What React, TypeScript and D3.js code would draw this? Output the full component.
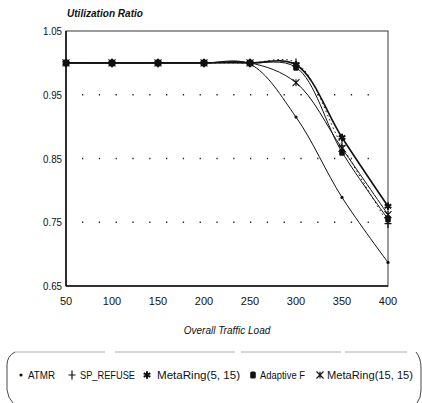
import React, { useRef, useEffect } from "react";
import * as d3 from "d3";

const loads = [50, 100, 150, 200, 250, 300, 350, 400];
const atmr = [1.0, 1.0, 1.0, 1.0, 0.998, 0.915, 0.789, 0.687];
const spRefuse = [1.0, 1.0, 1.0, 1.0, 1.0, 1.0, 0.87, 0.748];
const metaRing5 = [1.0, 1.0, 1.0, 1.0, 1.0, 0.997, 0.883, 0.775];
const adaptiveF = [1.0, 1.0, 1.0, 1.0, 1.0, 0.993, 0.86, 0.755];
const metaRing15 = [1.0, 1.0, 1.0, 1.0, 1.0, 0.969, 0.866, 0.762];
const yTicks = [0.65, 0.75, 0.85, 0.95, 1.05];
const gridTicks = [0.75, 0.85, 0.95];

const series = [
  { name: "ATMR", values: atmr, marker: "dot", dash: null, width: 1 },
  { name: "SP_REFUSE", values: spRefuse, marker: "plus", dash: "1.5,3", width: 1 },
  { name: "MetaRing(5, 15)", values: metaRing5, marker: "star", dash: null, width: 1.6 },
  { name: "Adaptive F", values: adaptiveF, marker: "square", dash: null, width: 1 },
  { name: "MetaRing(15, 15)", values: metaRing15, marker: "x", dash: null, width: 1 },
];

const font = "'Liberation Sans Narrow', 'Liberation Sans', Arial, sans-serif";

function drawMarker(g, type, cx, cy) {
  const s = 3.5;
  if (type === "dot") {
    g.append("circle").attr("cx", cx).attr("cy", cy).attr("r", 1.6).attr("fill", "#111");
  } else if (type === "plus") {
    g.append("path")
      .attr("d", `M${cx - s},${cy}H${cx + s}M${cx},${cy - s - 1}V${cy + s + 1}`)
      .attr("stroke", "#111").attr("stroke-width", 1.2);
  } else if (type === "star") {
    g.append("path")
      .attr("d", d3.symbol(d3.symbolAsterisk, 40)())
      .attr("transform", `translate(${cx},${cy})`)
      .attr("stroke", "#111").attr("stroke-width", 2);
  } else if (type === "square") {
    g.append("rect").attr("x", cx - 2.8).attr("y", cy - 3.5).attr("width", 5.6).attr("height", 7)
      .attr("rx", 1.5).attr("fill", "#111");
  } else {
    g.append("path")
      .attr("d", `M${cx - s},${cy - s}L${cx + s},${cy + s}M${cx - s},${cy + s}L${cx + s},${cy - s}M${cx},${cy - s}V${cy + s}`)
      .attr("stroke", "#111").attr("stroke-width", 1.1);
  }
}

const App = () => {
  const svgRef = useRef(null);
  const width = 422;
  const height = 403;

  useEffect(() => {
    const svg = d3.select(svgRef.current);
    svg.selectAll("*").remove();
    const margin = { top: 31, right: 34, bottom: 117, left: 66 };

    const x = d3.scaleLinear().domain([50, 400]).range([margin.left, width - margin.right]);
    const y = d3.scaleLinear().domain([0.65, 1.05]).range([height - margin.bottom, margin.top]);

    // dotted grid
    svg.append("g")
      .selectAll("line")
      .data(gridTicks)
      .join("line")
      .attr("x1", x(50) + 16)
      .attr("x2", x(400) - 4)
      .attr("y1", (d) => y(d))
      .attr("y2", (d) => y(d))
      .attr("stroke", "#222")
      .attr("stroke-width", 1.3)
      .attr("stroke-dasharray", "1.3,15.5");

    // frame
    svg.append("rect")
      .attr("x", x(50)).attr("y", y(1.05))
      .attr("width", x(400) - x(50)).attr("height", y(0.65) - y(1.05))
      .attr("fill", "none").attr("stroke", "#222").attr("stroke-width", 0.9);
    svg.append("line").attr("x1", x(50)).attr("x2", x(50)).attr("y1", y(1.05)).attr("y2", y(0.65))
      .attr("stroke", "#111").attr("stroke-width", 1.6);
    svg.append("line").attr("x1", x(50)).attr("x2", x(400)).attr("y1", y(0.65)).attr("y2", y(0.65))
      .attr("stroke", "#111").attr("stroke-width", 1.4);

    // y tick labels
    svg.append("g")
      .selectAll("text")
      .data(yTicks)
      .join("text")
      .attr("x", x(50) - 4)
      .attr("y", (d) => y(d) + 4)
      .attr("text-anchor", "end")
      .attr("font-family", font)
      .attr("font-size", 11)
      .attr("textLength", 19)
      .attr("lengthAdjust", "spacingAndGlyphs")
      .attr("fill", "#111")
      .text((d) => d.toFixed(2));

    // x tick labels
    svg.append("g")
      .selectAll("text")
      .data(loads)
      .join("text")
      .attr("x", (d) => x(d))
      .attr("y", y(0.65) + 19)
      .attr("text-anchor", "middle")
      .attr("font-family", font)
      .attr("font-size", 11)
      .attr("fill", "#111")
      .text((d) => d);

    svg.append("text")
      .attr("x", x(50) + 1)
      .attr("y", 17)
      .attr("font-family", font)
      .attr("font-size", 10)
      .attr("font-style", "italic")
      .attr("font-weight", "bold")
      .attr("textLength", 76)
      .attr("lengthAdjust", "spacingAndGlyphs")
      .attr("fill", "#111")
      .text("Utilization Ratio");

    svg.append("text")
      .attr("x", (x(50) + x(400)) / 2)
      .attr("y", y(0.65) + 48)
      .attr("text-anchor", "middle")
      .attr("font-family", font)
      .attr("font-size", 10)
      .attr("font-style", "italic")
      .attr("fill", "#111")
      .text("Overall Traffic Load");

    const line = d3.line()
      .x((d) => x(d[0]))
      .y((d) => y(d[1]))
      .curve(d3.curveCatmullRom.alpha(0.5));

    series.forEach((s) => {
      const pts = loads.map((l, i) => [l, s.values[i]]);
      svg.append("path")
        .datum(pts)
        .attr("fill", "none")
        .attr("stroke", "#111")
        .attr("stroke-width", s.width)
        .attr("stroke-dasharray", s.dash)
        .attr("d", line);
      const g = svg.append("g");
      pts.forEach((p) => drawMarker(g, s.marker, x(p[0]), y(p[1])));
    });

    // legend (bracket-like border)
    const lg = svg.append("g");
    lg.append("path")
      .attr("d", "M15,352 L407,352")
      .attr("fill", "none").attr("stroke", "#999").attr("stroke-width", 0.8)
      .attr("stroke-dasharray", "90,10,120,6,100,4");
    lg.append("path")
      .attr("d", "M15,352 Q7,356 7,365 L7,390 Q8,398 13,403")
      .attr("fill", "none").attr("stroke", "#333").attr("stroke-width", 0.9);
    lg.append("path")
      .attr("d", "M416,352 Q421,358 421,368 L421,390 Q421,398 417,403")
      .attr("fill", "none").attr("stroke", "#333").attr("stroke-width", 0.9);
    const ly = 379;
    const markerX = [21, 72, 147, 253, 320];
    const textX = [28, 80, 157, 260, 327];
    const legendW = [27, 55, 83, 45, 86];
    series.forEach((s, i) => {
      drawMarker(lg, s.marker, markerX[i], ly - 4);
      lg.append("text")
        .attr("x", textX[i])
        .attr("y", ly)
        .attr("font-family", font)
        .attr("font-size", 11)
        .attr("textLength", legendW[i])
        .attr("lengthAdjust", "spacingAndGlyphs")
        .attr("fill", "#111")
        .text(s.name);
    });
  }, []);

  return (
    <svg
      ref={svgRef}
      width={width}
      height={height}
      style={{ display: "block", position: "absolute", left: 0, top: 0 }}
    />
  );
};

export default App;
